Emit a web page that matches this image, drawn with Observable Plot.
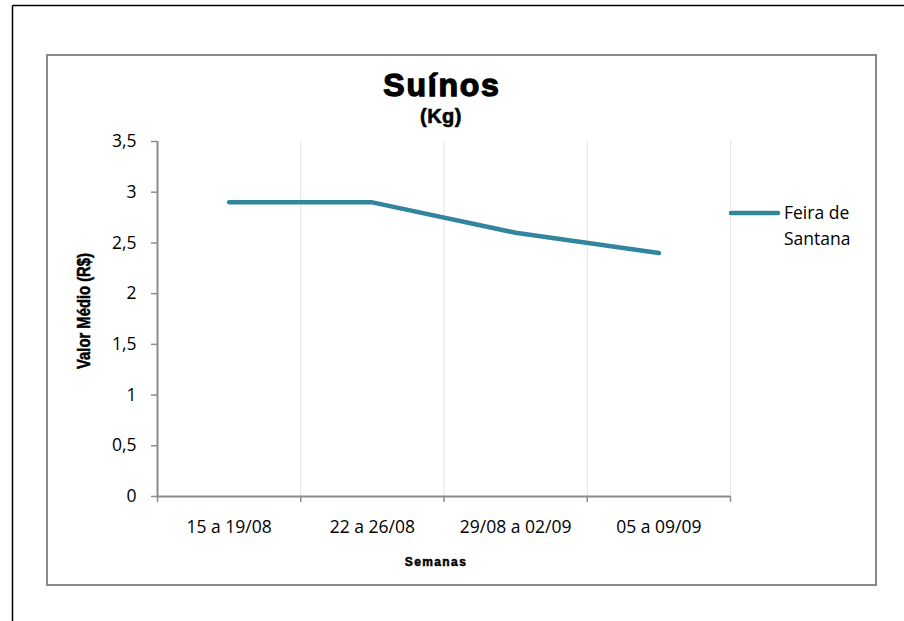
<!DOCTYPE html>
<html>
<head>
<meta charset="utf-8">
<script src="https://cdn.jsdelivr.net/npm/d3@7"></script>
<script src="https://cdn.jsdelivr.net/npm/@observablehq/plot@0.6"></script>
<style>
  html, body { margin: 0; padding: 0; background: #fff; }
  svg { display: block; }
</style>
</head>
<body>
<div id="chart"></div>
<script>
const categories = ["15 a 19/08", "22 a 26/08", "29/08 a 02/09", "05 a 09/09"];
const values = [2.9, 2.9, 2.6, 2.4];
const seriesName = "Feira de Santana";
const yTicks = [0, 0.5, 1, 1.5, 2, 2.5, 3, 3.5];
const title = "Suínos";
const subtitle = "(Kg)";
const yLabel = "Valor Médio (R$)";
const xLabel = "Semanas";

const data = categories.map((c, i) => ({i, c, v: values[i]}));
const boundaries = d3.range(categories.length + 1).map(k => k - 0.5);
const lineColor = "#31859C";
const axisColor = "#8c8c8c";
const tickFont = "'Open Sans', 'Noto Sans', sans-serif";
const tickSize = 17.5;

const plot = Plot.plot({
  width: 904,
  height: 621,
  marginLeft: 157,
  marginRight: 174,
  marginTop: 141,
  marginBottom: 125,
  style: {fontFamily: tickFont, fontSize: tickSize + "px", color: "#000", background: "transparent"},
  x: {type: "linear", domain: [-0.5, categories.length - 0.5]},
  y: {domain: [0, 3.5]},
  marks: [
    Plot.ruleX(boundaries.slice(1), {y1: 0, y2: 3.5, stroke: "#e3e3e3", strokeWidth: 1}),
    Plot.axisX({ticks: boundaries, tickSize: 6, tickFormat: () => "", stroke: axisColor, strokeWidth: 1.5, label: null}),
    Plot.axisX({ticks: d3.range(categories.length), tickSize: 0, tickPadding: 24, tickFormat: i => categories[i], label: null}),
    Plot.axisY({ticks: yTicks, tickSize: 6, tickPadding: 15, stroke: axisColor, strokeWidth: 1.5,
      tickFormat: d => String(d).replace(".", ","), label: null}),
    Plot.ruleX([-0.5], {y1: 0, y2: 3.5, stroke: axisColor, strokeWidth: 2}),
    Plot.ruleY([0], {x1: -0.5, x2: categories.length - 0.5, stroke: axisColor, strokeWidth: 2}),
    Plot.line(data, {x: "i", y: "v", stroke: lineColor, strokeWidth: 4.5, strokeLinecap: "round", strokeLinejoin: "round"})
  ]
});

const svg = d3.select(plot);
svg.selectAll("g[aria-label$='tick label']").attr("font-size", tickSize).style("font-size", tickSize + "px");

svg.insert("line", ":first-child").attr("x1", 12.5).attr("y1", 5.5).attr("x2", 904).attr("y2", 5.5).attr("stroke", "#000").attr("stroke-width", 1.5);
svg.insert("line", ":first-child").attr("x1", 12.5).attr("y1", 5.5).attr("x2", 12.5).attr("y2", 621).attr("stroke", "#000").attr("stroke-width", 1.5);
svg.insert("rect", ":first-child").attr("x", 47).attr("y", 55).attr("width", 829).attr("height", 530)
  .attr("fill", "none").attr("stroke", "#8a8a8a").attr("stroke-width", 2);

svg.append("text").attr("x", 442).attr("y", 96).attr("text-anchor", "middle")
  .attr("font-family", "'Liberation Sans', Arial, sans-serif").attr("font-weight", 900)
  .attr("font-size", 32).attr("letter-spacing", 1.8).attr("stroke", "#000").attr("stroke-width", 1.3).text(title);
svg.append("text").attr("x", 441).attr("y", 123).attr("text-anchor", "middle")
  .attr("font-family", "'Liberation Sans', Arial, sans-serif").attr("font-weight", 700)
  .attr("font-size", 20).attr("letter-spacing", 0.5).attr("stroke", "#000").attr("stroke-width", 0.6).text(subtitle);

svg.append("text").attr("transform", "translate(90,311) rotate(-90) scale(0.78,1)").attr("text-anchor", "middle")
  .attr("font-family", "'Liberation Sans', Arial, sans-serif").attr("font-weight", 700)
  .attr("font-size", 19).attr("stroke", "#000").attr("stroke-width", 0.5).text(yLabel);

svg.append("text").attr("x", 436).attr("y", 566).attr("text-anchor", "middle")
  .attr("font-family", "'Liberation Sans', Arial, sans-serif").attr("font-weight", 700)
  .attr("font-size", 12).attr("letter-spacing", 1.4).attr("stroke", "#000").attr("stroke-width", 0.5).text(xLabel);

const lg = svg.append("g");
lg.append("line").attr("x1", 731).attr("x2", 778).attr("y1", 213).attr("y2", 213)
  .attr("stroke", lineColor).attr("stroke-width", 4.5).attr("stroke-linecap", "round");
const lt = lg.append("text").attr("text-anchor", "start").attr("font-family", tickFont).attr("font-size", tickSize).attr("fill", "#000");
lt.append("tspan").attr("x", 784).attr("y", 219).text("Feira de");
lt.append("tspan").attr("x", 784).attr("y", 245).text("Santana");

document.getElementById("chart").append(plot);
</script>
</body>
</html>
